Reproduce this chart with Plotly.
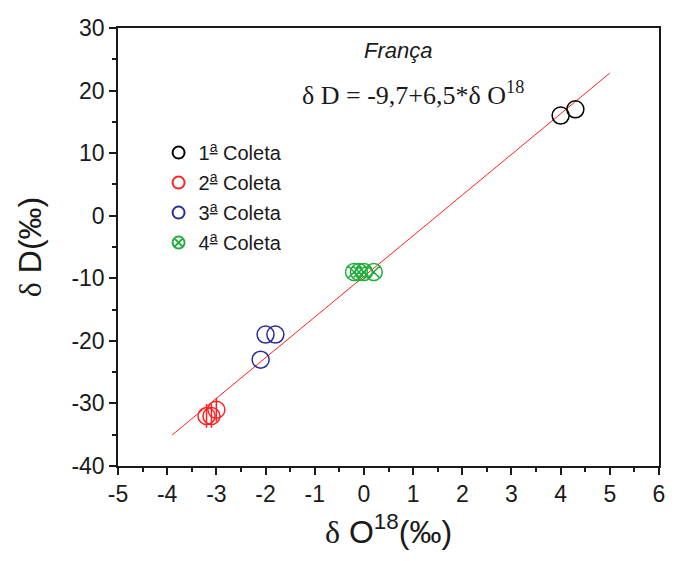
import plotly.graph_objects as go

# Data
c1_x = [4.0, 4.3]
c1_y = [16, 17]
c2_x = [-3.2, -3.1, -3.0]
c2_y = [-32, -32, -31]
c3_x = [-2.0, -1.8, -2.1]
c3_y = [-19, -19, -23]
c4_x = [-0.2, -0.1, 0.0, 0.2]
c4_y = [-9, -9, -9, -9]
fit_intercept = -9.7
fit_slope = 6.5
fit_x = [-3.9, 5.0]
fit_y = [fit_intercept + fit_slope * v for v in fit_x]

x_ticks = [-5, -4, -3, -2, -1, 0, 1, 2, 3, 4, 5, 6]
x_ticktext = ["-5", "-4", "-3", "-2", "-1", "0", "1", "2", "3", "4", "5", "6"]
y_ticks = [-40, -30, -20, -10, 0, 10, 20, 30]
y_ticktext = ["-40", "-30", "-20", "-10", "0", "10", "20", "30"]

UL = "<span style='text-decoration:underline'>a</span>"
labels = ["1<sup>" + UL + "</sup> Coleta", "2<sup>" + UL + "</sup> Coleta",
          "3<sup>" + UL + "</sup> Coleta", "4<sup>" + UL + "</sup> Coleta"]

SANS = "Liberation Sans"
SERIF = "Liberation Serif"
INK = "#1a1a1a"
MS = 17

fig = go.Figure()
fig.add_trace(go.Scatter(x=fit_x, y=fit_y, mode="lines",
                         line=dict(color="#ff2020", width=1), showlegend=False))
fig.add_trace(go.Scatter(x=c1_x, y=c1_y, mode="markers", name=labels[0], legendgroup="a",
                         marker=dict(symbol="circle-open", size=MS, color="black", line=dict(width=1.5))))
fig.add_trace(go.Scatter(x=c2_x, y=c2_y, mode="markers", name=labels[1], legendgroup="b",
                         marker=dict(symbol="circle-open", size=MS, color="#ff2020", line=dict(width=1.5))))
fig.add_trace(go.Scatter(x=c2_x, y=c2_y, mode="markers", showlegend=False, legendgroup="b",
                         marker=dict(symbol="line-ns-open", size=MS, color="#ff2020", line=dict(width=1.5))))
fig.add_trace(go.Scatter(x=c3_x, y=c3_y, mode="markers", name=labels[2], legendgroup="c",
                         marker=dict(symbol="circle-open", size=MS, color="#2b2b9a", line=dict(width=1.5))))
fig.add_trace(go.Scatter(x=c4_x, y=c4_y, mode="markers", name=labels[3], legendgroup="d",
                         marker=dict(symbol="circle-x-open", size=MS, color="#1fae3a", line=dict(width=1.5))))

fig.add_annotation(x=0.7, y=26.4, xref="x", yref="y", text="<i>França</i>", showarrow=False,
                   font=dict(family=SANS, size=22, color=INK))
fig.add_annotation(x=1.0, y=19.6, xref="x", yref="y",
                   text="δ D = -9,7+6,5*δ O<sup>18</sup>", showarrow=False,
                   font=dict(family=SERIF, size=26, color=INK))

axis_common = dict(showline=True, linecolor=INK, linewidth=1.5, mirror=True,
                   ticks="outside", ticklen=7, tickwidth=1.5, tickcolor=INK,
                   showgrid=False, zeroline=False, automargin=False,
                   ticklabeloverflow="allow",
                   tickfont=dict(family=SANS, size=23, color=INK))

fig.update_xaxes(range=[-5, 6], tickvals=x_ticks, ticktext=x_ticktext,
                 minor=dict(ticks="outside", ticklen=4, dtick=0.5, tick0=0, tickwidth=1.5, tickcolor=INK),
                 title=dict(text="<span style='font-family:Liberation Serif'>δ</span> O<sup>18</sup>(‰)",
                            font=dict(family=SANS, size=32, color=INK), standoff=14),
                 **axis_common)
fig.update_yaxes(range=[-40, 30], tickvals=y_ticks, ticktext=y_ticktext,
                 minor=dict(ticks="outside", ticklen=4, dtick=5, tick0=0, tickwidth=1.5, tickcolor=INK),
                 title=dict(text="<span style='font-family:Liberation Serif'>δ</span> D(‰)",
                            font=dict(family=SANS, size=32, color=INK), standoff=20),
                 **axis_common)

fig.update_layout(
    width=659, height=545,
    margin=dict(l=110, r=8, t=20, b=87),
    paper_bgcolor="white", plot_bgcolor="white",
    legend=dict(x=0.075, y=0.76, xanchor="left", yanchor="top",
                font=dict(family=SANS, size=20, color=INK),
                itemsizing="constant", tracegroupgap=1, traceorder="grouped",
                bgcolor="rgba(0,0,0,0)"),
)

fig.write_html("out.html")
